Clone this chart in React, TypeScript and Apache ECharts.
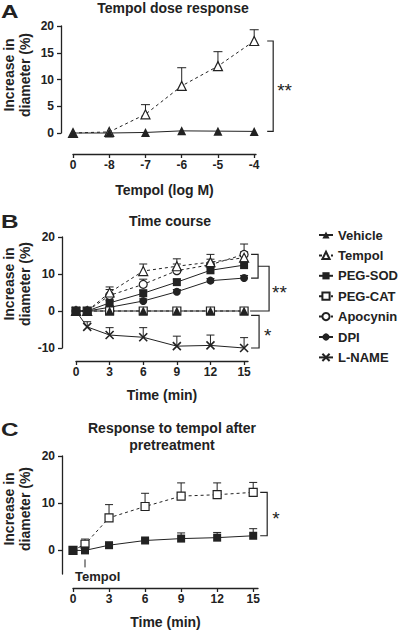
import React, { useEffect, useRef } from "react";
import * as echarts from "echarts";

const FONT = "'Liberation Sans', Arial, Helvetica, sans-serif";
const INK = "#222";

// ---- Panel A: Tempol dose response ----
const doseLabels = ["0", "-8", "-7", "-6", "-5", "-4"];
const doseIndex = [0, 1, 2, 3, 4, 5];
const aVehicle = [0, 0, 0.1, 0.4, 0.35, 0.3];
const aTempol = [0, 0.2, 3.5, 8.8, 12.5, 17.2];
const aTempolErr = [0, 0, 1.8, 3.4, 2.7, 2.1];
const yTicksA = [0, 5, 10, 15, 20];

// ---- Panel B: Time course ----
const times = [0, 1, 3, 6, 9, 12, 15];
const timeTicks = [0, 3, 6, 9, 12, 15];
const bVehicle = [0, 0, 0, 0, 0, 0, 0];
const bTempol = [0, 0, 5.0, 10.8, 12.1, 13.2, 14.4];
const bTempolErr = [0, 0, 1.5, 1.9, 2.0, 2.1, 1.6];
const bPegSod = [0, 0, 2.2, 4.8, 7.8, 11.0, 12.4];
const bPegSodErr = [0, 0, 0.6, 0.8, 0.8, 0.7, 1.0];
const bPegCat = [0, 0, 0, 0, 0, 0, 0];
const bApocynin = [0, 0, 4.2, 7.2, 10.9, 12.5, 15.3];
const bApocyninErr = [0, 0, 1.6, 1.4, 1.8, 1.5, 2.8];
const bDpi = [0, 0, 1.0, 2.7, 5.2, 8.2, 8.9];
const bDpiErr = [0, 0, 0.5, 0.6, 0.6, 0.6, 0.7];
const bLName = [0, -4.3, -6.5, -7.1, -9.5, -9.3, -10.0];
const bLNameErr = [0, 1.4, 2.0, 2.6, 2.7, 2.8, 2.8];
const yTicksB = [-10, 0, 10, 20];

// ---- Panel C: Response to tempol after pretreatment ----
const cPegCat = [0, 1.3, 6.9, 9.3, 11.5, 11.8, 12.3];
const cPegCatErr = [0, 1.1, 2.8, 2.8, 2.8, 2.5, 2.1];
const cPegSod = [0, 0, 1.1, 2.1, 2.5, 2.7, 3.1];
const cPegSodErr = [0, 0, 0.3, 0.3, 1.2, 1.1, 1.5];
const yTicksC = [0, 10, 20];

const legendNames = ["Vehicle", "Tempol", "PEG-SOD", "PEG-CAT", "Apocynin", "DPI", "L-NAME"];

type Mk = { symbol: string; size: number; filled: boolean; dashed: boolean; cross?: boolean };
const CROSS = "path://M0,0L10,10M0,10L10,0";
const MK: Record<string, Mk> = {
  Vehicle: { symbol: "triangle", size: 9, filled: true, dashed: false },
  Tempol: { symbol: "triangle", size: 9, filled: false, dashed: true },
  "PEG-SOD": { symbol: "rect", size: 8, filled: true, dashed: false },
  "PEG-CAT": { symbol: "rect", size: 8, filled: false, dashed: true },
  Apocynin: { symbol: "circle", size: 8, filled: false, dashed: true },
  DPI: { symbol: "circle", size: 8, filled: true, dashed: false },
  "L-NAME": { symbol: CROSS, size: 8, filled: false, dashed: false, cross: true },
};

function line(name: string, xs: number[], ys: number[], axis: number, z = 4) {
  const m = MK[name];
  return {
    type: "line",
    name,
    xAxisIndex: axis,
    yAxisIndex: axis,
    z,
    clip: false,
    silent: true,
    data: xs.map((x, i) => [x, ys[i]]),
    symbol: m.symbol,
    symbolSize: m.size,
    showAllSymbol: true,
    itemStyle: m.filled
      ? { color: INK, borderColor: INK, borderWidth: 0 }
      : { color: m.cross ? "rgba(0,0,0,0)" : "#fff", borderColor: INK, borderWidth: m.cross ? 1.6 : 1.2 },
    lineStyle: { color: INK, width: 1, type: m.dashed ? [3, 3] : "solid" },
    emphasis: { disabled: true },
  };
}

function errBars(xs: number[], ys: number[], errs: number[], axis: number, cap: number) {
  return {
    type: "custom",
    xAxisIndex: axis,
    yAxisIndex: axis,
    z: 2,
    clip: false,
    silent: true,
    data: xs.map((x, i) => [x, ys[i], errs[i]]).filter((d) => d[2] > 0),
    renderItem: (_p: any, api: any) => {
      const x = api.value(0);
      const y = api.value(1);
      const e = api.value(2);
      const p0 = api.coord([x, y]);
      const p1 = api.coord([x, y + e]);
      const st = { stroke: INK, lineWidth: 1 };
      return {
        type: "group",
        children: [
          { type: "line", shape: { x1: p0[0], y1: p0[1], x2: p1[0], y2: p1[1] }, style: st },
          { type: "line", shape: { x1: p1[0] - cap / 2, y1: p1[1], x2: p1[0] + cap / 2, y2: p1[1] }, style: st },
        ],
      };
    },
  };
}

function bracket(
  axis: number,
  x: number,
  yTop: number,
  yBot: number,
  topStart: number,
  botStart: number,
  vx: number,
  label: string,
  labelDx: number
) {
  return {
    type: "custom",
    xAxisIndex: axis,
    yAxisIndex: axis,
    z: 3,
    clip: false,
    silent: true,
    data: [[x, yTop, yBot]],
    renderItem: (_p: any, api: any) => {
      const pt = api.coord([api.value(0), api.value(1)]);
      const pb = api.coord([api.value(0), api.value(2)]);
      const children: any[] = [
        {
          type: "polyline",
          shape: {
            points: [
              [pt[0] + topStart, pt[1]],
              [pt[0] + vx, pt[1]],
              [pt[0] + vx, pb[1]],
              [pt[0] + botStart, pb[1]],
            ],
          },
          style: { stroke: INK, lineWidth: 1.2, fill: "none" },
        },
      ];
      if (label) {
        children.push({
          type: "text",
          x: pt[0] + vx + labelDx,
          y: (pt[1] + pb[1]) / 2 + 4,
          style: {
            text: label,
            fill: INK,
            fontSize: 19,
            fontFamily: FONT,
            align: "left",
            textAlign: "left",
            verticalAlign: "middle",
            textVerticalAlign: "middle",
          },
        });
      }
      return { type: "group", children };
    },
  };
}

function tempolMark(axis: number, x: number) {
  return {
    type: "custom",
    xAxisIndex: axis,
    yAxisIndex: axis,
    z: 3,
    clip: false,
    silent: true,
    data: [[x, 0]],
    renderItem: (_p: any, api: any) => {
      const p = api.coord([api.value(0), api.value(1)]);
      return {
        type: "group",
        children: [
          { type: "line", shape: { x1: p[0], y1: p[1] + 9, x2: p[0], y2: p[1] + 17 }, style: { stroke: INK, lineWidth: 1 } },
          {
            type: "text",
            x: p[0] - 10,
            y: p[1] + 26,
            style: {
              text: "Tempol",
              fill: INK,
              fontSize: 13,
              fontWeight: "bold",
              fontFamily: FONT,
              align: "left",
              textAlign: "left",
              verticalAlign: "middle",
              textVerticalAlign: "middle",
            },
          },
        ],
      };
    },
  };
}

const lblStyle = { color: INK, fontSize: 12, fontWeight: "bold", fontFamily: FONT };
const nameStyle = { color: INK, fontSize: 14, fontWeight: "bold", fontFamily: FONT };
const lineSt = { color: INK, width: 1.3 };

function xAxis(grid: number, max: number, ticks: number[], offset: number, name: string, gap: number, fmt?: (v: number) => string) {
  return {
    gridIndex: grid,
    type: "value",
    min: 0,
    max,
    offset,
    axisLine: { onZero: false, lineStyle: lineSt },
    axisTick: { length: 4, lineStyle: lineSt, customValues: ticks },
    axisLabel: { ...lblStyle, margin: 5, customValues: ticks, formatter: fmt || ((v: number) => String(v)) },
    splitLine: { show: false },
    name,
    nameLocation: "middle",
    nameGap: gap,
    nameTextStyle: nameStyle,
  };
}

function yAxis(grid: number, min: number, max: number, ticks: number[], offset: number) {
  return {
    gridIndex: grid,
    type: "value",
    min,
    max,
    offset,
    axisLine: { onZero: false, lineStyle: lineSt },
    axisTick: { length: 4, lineStyle: lineSt, customValues: ticks },
    axisLabel: { ...lblStyle, margin: 7, customValues: ticks },
    splitLine: { show: false },
  };
}

function txt(text: string, x: number, y: number, size: number, extra: any = {}) {
  return {
    type: "text",
    x,
    y,
    silent: true,
    ...extra,
    style: {
      text,
      fill: INK,
      fontSize: size,
      fontWeight: "bold",
      fontFamily: FONT,
      align: extra.align || "center",
      textAlign: extra.align || "center",
      verticalAlign: "middle",
      textVerticalAlign: "middle",
      lineHeight: extra.lineHeight,
    },
  };
}

export default function App() {
  const ref = useRef<HTMLDivElement>(null);
  useEffect(() => {
    if (!ref.current) return;
    const chart = echarts.init(ref.current, undefined, { renderer: "svg" });
    const option: any = {
      animation: false,
      backgroundColor: "#fff",
      grid: [
        { left: 73, top: 26, width: 183, height: 107 },
        { left: 76, top: 237, width: 172, height: 111 },
        { left: 73, top: 456, width: 185, height: 118 },
      ],
      xAxis: [
        xAxis(0, 5.05, doseIndex, 21, "Tempol (log M)", 29, (v: number) => doseLabels[Math.round(v)]),
        xAxis(1, 15.35, timeTicks, 13, "Time (min)", 27),
        xAxis(2, 15.4, timeTicks, 14, "Time (min)", 27),
      ],
      yAxis: [
        yAxis(0, 0, 20, yTicksA, 12),
        yAxis(1, -10, 20, yTicksB, 14),
        yAxis(2, -5, 20, yTicksC, 11),
      ],
      legend: {
        data: legendNames,
        orient: "vertical",
        left: 313,
        top: 223,
        itemWidth: 14,
        itemHeight: 9,
        itemGap: 6.4,
        selectedMode: false,
        textStyle: { color: INK, fontSize: 13, fontWeight: "bold", fontFamily: FONT, lineHeight: 14 },
      },
      graphic: [
        txt("A", 1, 12, 18, { align: "left", scaleX: 1.35 }),
        txt("B", 1, 222, 18, { align: "left", scaleX: 1.35 }),
        txt("C", 1, 430, 18, { align: "left", scaleX: 1.35 }),
        txt("Tempol dose response", 173, 8, 14),
        txt("Time course", 170, 221, 14),
        txt("Response to tempol after\npretreatment", 172, 436, 14, { lineHeight: 17 }),
        txt("Increase in\ndiameter (%)", 17, 75, 14, { rotation: Math.PI / 2, lineHeight: 16 }),
        txt("Increase in\ndiameter (%)", 17, 284, 14, { rotation: Math.PI / 2, lineHeight: 16 }),
        txt("Increase in\ndiameter (%)", 17, 509, 14, { rotation: Math.PI / 2, lineHeight: 16 }),
      ],
      series: [
        // Panel B
        errBars(times, bApocynin, bApocyninErr, 1, 8),
        errBars(times, bTempol, bTempolErr, 1, 8),
        errBars(times, bPegSod, bPegSodErr, 1, 8),
        errBars(times, bDpi, bDpiErr, 1, 8),
        errBars(times, bLName, bLNameErr, 1, 8),
        line("Apocynin", times, bApocynin, 1),
        line("Tempol", times, bTempol, 1),
        line("DPI", times, bDpi, 1),
        line("PEG-CAT", times, bPegCat, 1),
        line("Vehicle", times, bVehicle, 1),
        line("L-NAME", times, bLName, 1),
        line("PEG-SOD", times, bPegSod, 1),
        bracket(1, 15, bApocynin[6], bDpi[6], 7, 7, 14, "", 0),
        bracket(1, 15, (bApocynin[6] + bDpi[6]) / 2, bVehicle[6], 14, 6, 25, "**", 3),
        bracket(1, 15, -1.2, bLName[6], 7, 7, 15, "*", 5),
        // Panel A
        errBars(doseIndex, aTempol, aTempolErr, 0, 9),
        line("Tempol", doseIndex, aTempol, 0),
        line("Vehicle", doseIndex, aVehicle, 0),
        bracket(0, 5, aTempol[5], aVehicle[5], 13, 13, 19, "**", 4),
        // Panel C
        errBars(times, cPegCat, cPegCatErr, 2, 8),
        errBars(times, cPegSod, cPegSodErr, 2, 8),
        line("PEG-CAT", times, cPegCat, 2),
        line("PEG-SOD", times, cPegSod, 2),
        bracket(2, 15, cPegCat[6], cPegSod[6], 7, 7, 14, "*", 5),
        tempolMark(2, 1),
      ],
    };
    chart.setOption(option);
    return () => chart.dispose();
  }, []);
  return (
    <div
      ref={ref}
      style={{ position: "fixed", left: 0, top: 0, width: 400, height: 631, background: "#fff" }}
    />
  );
}
